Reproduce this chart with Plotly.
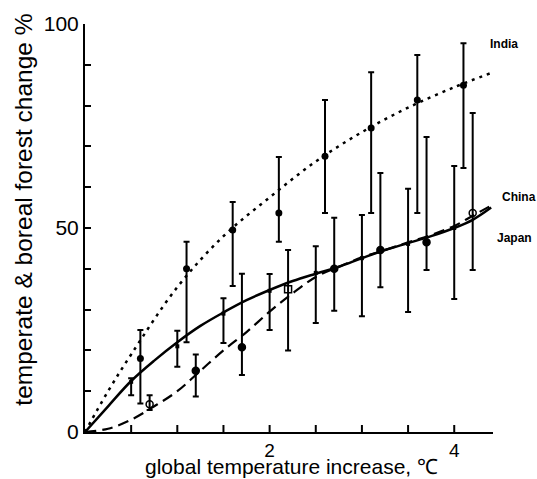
import plotly.graph_objects as go

# ---- data ----
india_x = [0.6, 1.1, 1.6, 2.1, 2.6, 3.1, 3.6, 4.1]
india_y = [18.0, 40.0, 49.5, 53.7, 67.6, 74.5, 81.4, 85.0]
india_lo = [7.0, 22.0, 35.8, 46.6, 53.7, 53.7, 53.7, 64.7]
india_hi = [25.0, 46.6, 56.4, 67.4, 81.4, 88.2, 92.4, 95.3]

china_x = [0.5, 1.0, 1.5, 2.0, 2.5, 3.0, 3.5, 4.0]
china_y = [12.3, 21.0, 29.0, 34.6, 39.0, 42.6, 46.1, 50.0]
china_lo = [9.0, 16.0, 21.8, 25.0, 26.7, 28.4, 29.4, 32.6]
china_hi = [13.2, 24.8, 32.8, 38.7, 45.5, 53.2, 59.6, 65.2]

japan_x = [0.7, 1.2, 1.7, 2.2, 2.7, 3.2, 3.7, 4.2]
japan_y = [6.8, 15.0, 20.8, 35.0, 40.0, 44.6, 46.5, 53.7]
japan_lo = [5.4, 8.7, 14.0, 20.0, 29.7, 35.5, 39.7, 39.7]
japan_hi = [9.0, 19.0, 38.8, 44.6, 52.5, 63.5, 72.3, 78.2]

# fitted curves as drawn in the figure
india_cx = [0, 0.25, 0.5, 1.0, 1.5, 2.0, 2.5, 3.0, 3.5, 4.0, 4.4]
india_cy = [0, 10.0, 19.0, 35.5, 48.0, 57.5, 66.3, 73.5, 79.5, 84.5, 88.0]

china_cx = [0, 0.25, 0.5, 0.75, 1.0, 1.25, 1.5, 1.75, 2.0, 2.25, 2.5, 2.75, 3.0, 3.25, 3.5, 3.75, 4.0, 4.2, 4.4]
china_cy = [0, 6.3, 12.5, 17.5, 22.0, 26.0, 29.3, 32.3, 34.8, 37.0, 38.8, 40.5, 42.6, 44.6, 46.3, 48.0, 50.0, 52.0, 55.0]

japan_cx = [0, 0.25, 0.5, 0.75, 1.0, 1.25, 1.5, 1.75, 2.0, 2.25, 2.5, 2.75, 3.0, 3.25, 3.5, 3.75, 4.0, 4.2, 4.4]
japan_cy = [0, 0.8, 3.0, 6.3, 10.0, 15.0, 20.0, 24.5, 29.5, 34.0, 38.0, 40.5, 42.8, 44.6, 46.5, 48.3, 50.5, 53.0, 55.5]

labels = ["India", "China", "Japan"]
label_px = [0.988, 1.017, 1.005]   # paper x of label left edge
label_y = [95.0, 57.6, 47.5]

y_tickvals = [0, 10, 20, 30, 40, 50, 60, 70, 80, 90, 100]
y_ticktext = ["0", "", "", "", "", "50", "", "", "", "", "100"]
x_tickvals = [2, 4]
x_ticktext = ["2", "4"]
x_tick_marks = [0.5, 1.0, 1.5, 2.0, 2.5, 3.0, 3.5, 4.0]

x_title = "global temperature increase, ℃"
y_title = "temperate & boreal forest change %"


def err(y, lo, hi):
    return dict(type="data", array=[h - v for v, h in zip(y, hi)],
                arrayminus=[v - l for v, l in zip(y, lo)],
                color="black", thickness=2, width=3, visible=True)


fig = go.Figure()

fig.add_trace(go.Scatter(x=india_cx, y=india_cy, mode="lines", line_shape="spline",
                         line=dict(color="black", width=2.5, dash="3px,5px"), showlegend=False))
fig.add_trace(go.Scatter(x=china_cx, y=china_cy, mode="lines", line_shape="spline",
                         line=dict(color="black", width=2.5), showlegend=False))
fig.add_trace(go.Scatter(x=japan_cx, y=japan_cy, mode="lines", line_shape="spline",
                         line=dict(color="black", width=2.2, dash="11px,6px"), showlegend=False))

fig.add_trace(go.Scatter(x=india_x, y=india_y, mode="markers",
                         marker=dict(symbol="circle", size=7, color="black"),
                         error_y=err(india_y, india_lo, india_hi), showlegend=False))
fig.add_trace(go.Scatter(x=china_x, y=china_y, mode="markers",
                         marker=dict(symbol="square", size=4, color="black"),
                         error_y=err(china_y, china_lo, china_hi), showlegend=False))
fig.add_trace(go.Scatter(x=japan_x, y=japan_y, mode="markers",
                         marker=dict(symbol=["circle-open", "circle", "circle", "square-open",
                                             "circle", "circle", "circle", "circle-open"],
                                     size=7, color="black", line=dict(color="black", width=1.5)),
                         error_y=err(japan_y, japan_lo, japan_hi), showlegend=False))

# inside tick marks along the x axis
for v in x_tick_marks:
    fig.add_shape(type="line", xref="x", yref="y domain", x0=v, x1=v, y0=0, y1=7 / 408,
                  line=dict(color="black", width=2), layer="above")

for t, lx, ly in zip(labels, label_px, label_y):
    fig.add_annotation(x=lx, y=ly, xref="paper", yref="y", text="<b>" + t + "</b>",
                       showarrow=False, xanchor="left", yanchor="middle",
                       font=dict(family="Liberation Sans, Arial", size=12, color="black"))

fig.add_annotation(x=-0.1495, y=0.545, xref="paper", yref="paper", text=y_title,
                   textangle=-90, showarrow=False, xanchor="center", yanchor="middle",
                   font=dict(family="Liberation Sans, Arial", size=24.5, color="black"))
fig.add_annotation(x=0.505, y=-0.1176, xref="paper", yref="paper", text=x_title,
                   showarrow=False, xanchor="center", yanchor="bottom",
                   font=dict(family="Liberation Sans, Arial", size=21, color="black"))

fig.update_layout(
    width=537, height=479,
    margin=dict(l=85, r=44, t=24, b=47),
    paper_bgcolor="white", plot_bgcolor="white",
    font=dict(family="Liberation Sans, Arial", color="black"),
    xaxis=dict(range=[0, 4.42], showgrid=False, zeroline=False, showline=True,
               linecolor="black", linewidth=2, ticks="", tickmode="array",
               tickvals=x_tickvals, ticktext=x_ticktext,
               tickfont=dict(size=19), layer="above traces"),
    yaxis=dict(range=[0, 100], showgrid=False, zeroline=False, showline=True,
               linecolor="black", linewidth=2, ticks="inside", ticklen=6, tickwidth=2,
               tickcolor="black", tickvals=y_tickvals, ticktext=y_ticktext,
               tickfont=dict(size=21), layer="above traces"),
)

fig.write_html("out.html")
